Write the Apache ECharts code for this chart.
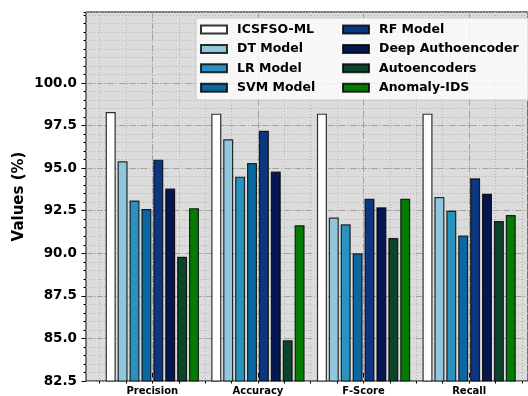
<!DOCTYPE html>
<html>
<head>
<meta charset="utf-8">
<script src="https://cdn.jsdelivr.net/npm/echarts@6/dist/echarts.min.js"></script>
<style>
  html, body { margin: 0; padding: 0; background: #fff; }
  #chart { width: 528px; height: 396px; }
</style>
</head>
<body>
<div id="chart"></div>
<script>
// data
const metrics = ['Precision', 'Accuracy', 'F-Score', 'Recall'];
const models = ['ICSFSO-ML', 'DT Model', 'LR Model', 'SVM Model', 'RF Model', 'Deep Authoencoder', 'Autoencoders', 'Anomaly-IDS'];
const icsfsoMl = [98.3, 98.2, 98.2, 98.2];
const dtModel = [95.4, 96.7, 92.1, 93.3];
const lrModel = [93.1, 94.5, 91.7, 92.5];
const svmModel = [92.6, 95.3, 90.0, 91.05];
const rfModel = [95.5, 97.2, 93.2, 94.4];
const deepAutoencoder = [93.8, 94.8, 92.7, 93.5];
const autoencoders = [89.8, 84.9, 90.9, 91.9];
const anomalyIds = [92.65, 91.65, 93.2, 92.25];
const yTickFirst = 82.5;
const yTickLast = 100.0;
const yTickStep = 2.5;

const values = [icsfsoMl, dtModel, lrModel, svmModel, rfModel, deepAutoencoder, autoencoders, anomalyIds];
const colors = ['#ffffff', '#92c6dd', '#2a92bf', '#0a67a0', '#0c3680', '#061650', '#0a452a', '#047c04'];

const FONT = 'DejaVu Sans';
const W = 528;
const plotTop = 12, plotBottom = 381;
const yMax = 104.17;
const x0 = 152.35, step = 105.6;   // pixel of first metric, pixels per metric
const xLeft = -0.63, xRight = 3.63;

const plotH = plotBottom - plotTop;
const majorTop = plotBottom - (yTickLast - yTickFirst) / (yMax - yTickFirst) * plotH;
const px = v => x0 + v * step;

const hidden = {show: false};
const dotted = {color: '#b4b4b4', width: 1, type: [1, 2]};
const dashed = {color: '#a2a2a2', width: 1, type: [6, 2, 1, 2]};

const myChart = echarts.init(document.getElementById('chart'));
myChart.setOption({
  animation: false,
  textStyle: {fontFamily: FONT},
  grid: [
    // 0: full plot area with background and spines
    {left: 86, right: W - px(xRight), top: plotTop, bottom: 396 - plotBottom,
      show: true, backgroundColor: '#dcdcdc', borderColor: '#000', borderWidth: 1},
    // 1: major y ticks (only up to 100)
    {left: 86, right: W - px(xRight), top: majorTop, bottom: 396 - plotBottom},
    // 2: bars + minor x grid
    {left: px(-0.5), right: W - px(3.5), top: plotTop, bottom: 396 - plotBottom},
    // 3: major x ticks and labels
    {left: px(0), right: W - px(3), top: plotTop, bottom: 396 - plotBottom}
  ],
  xAxis: [
    {gridIndex: 0, type: 'value', min: 0, max: 1, show: false},
    {gridIndex: 1, type: 'value', min: 0, max: 1, show: false},
    {gridIndex: 2, type: 'value', min: -0.5, max: 3.5, interval: 0.25,
      axisLine: hidden, axisLabel: hidden,
      axisTick: {show: true, length: 2.5, lineStyle: {color: '#000'}},
      splitLine: {show: true, lineStyle: dotted}},
    {gridIndex: 3, type: 'value', min: 0, max: metrics.length - 1, interval: 1,
      axisLine: hidden,
      axisTick: {show: true, length: 4.5, lineStyle: {color: '#000'}},
      splitLine: {show: true, lineStyle: dashed},
      axisLabel: {show: true, margin: 13, color: '#000', fontSize: 10, fontWeight: 'bold',
        formatter: v => metrics[v] || ''}}
  ],
  yAxis: [
    {gridIndex: 0, type: 'value', min: yTickFirst, max: yMax, interval: 0.5,
      name: 'Values (%)', nameLocation: 'middle', nameGap: 59,
      nameTextStyle: {color: '#000', fontSize: 15, fontWeight: 'bold', fontFamily: FONT},
      axisLine: hidden, axisLabel: hidden,
      axisTick: {show: true, length: 2.5, lineStyle: {color: '#000'}},
      splitLine: {show: true, lineStyle: dotted}},
    {gridIndex: 1, type: 'value', min: yTickFirst, max: yTickLast, interval: yTickStep,
      axisLine: hidden,
      axisTick: {show: true, length: 4.5, lineStyle: {color: '#000'}},
      splitLine: {show: true, lineStyle: dashed},
      axisLabel: {show: true, margin: 9, color: '#000', fontSize: 13.5, fontWeight: 'bold',
        formatter: v => v.toFixed(1)}},
    {gridIndex: 2, type: 'value', min: yTickFirst, max: yMax, show: false},
    {gridIndex: 3, type: 'value', min: yTickFirst, max: yMax, show: false}
  ],
  legend: [0, 1].map(col => ({
    data: models.slice(col * 4, col * 4 + 4),
    orient: 'vertical',
    left: col === 0 ? 200 : 342,
    top: 22.5,
    padding: 0,
    icon: 'rect',
    itemWidth: 26,
    itemHeight: 8,
    itemGap: 5.4,
    textStyle: {color: '#000', fontSize: 12.5, fontWeight: 'bold', fontFamily: FONT,
      lineHeight: 14, padding: [0, 0, 0, 5]}
  })),
  graphic: [{
    type: 'rect', z: 3,
    shape: {x: 196, y: 18, width: 345, height: 82, r: 3},
    style: {fill: 'rgba(255,255,255,0.8)', stroke: 'rgba(200,200,200,0.9)', lineWidth: 1}
  }],
  series: models.map((name, i) => ({
    name: name,
    type: 'bar',
    xAxisIndex: 2,
    yAxisIndex: 2,
    barWidth: 10,
    barGap: '19%',
    itemStyle: {color: colors[i], borderColor: 'rgba(0,0,0,0.8)', borderWidth: 1.2},
    data: values[i].map((v, k) => [k, v])
  }))
});
</script>
</body>
</html>
